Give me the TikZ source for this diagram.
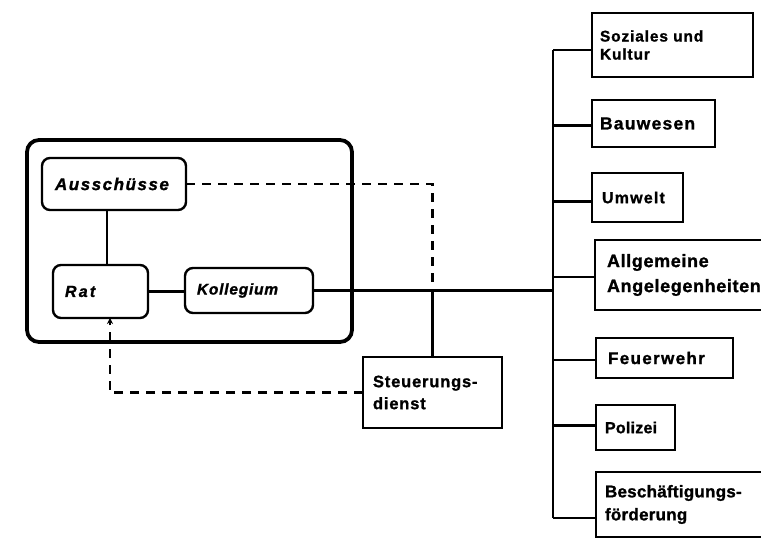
\documentclass[tikz,border=0pt]{standalone}
\usepackage{fontspec}
\setmainfont{Liberation Sans}
\usetikzlibrary{arrows.meta}

% heavy label font: size, baseline skip, letter spacing
\newcommand\lab[3]{\fontsize{#1}{#2}\bfseries\selectfont\addfontfeature{LetterSpace=#3,FakeBold=1.2}}
\newcommand\ilab[3]{\fontsize{#1}{#2}\bfseries\itshape\selectfont\addfontfeature{LetterSpace=#3,FakeBold=1.2}}

\tikzset{
  unit/.style={draw, rectangle, line width=2.4pt, anchor=north west, outer sep=0pt,
               inner ysep=0pt, align=left},
  organ/.style={unit, rounded corners=8pt},
  frame/.style={draw, rectangle, line width=3.8pt, rounded corners=12pt,
                anchor=north west, outer sep=0pt, inner sep=0pt},
  link/.style={line width=2.2pt},
  busline/.style={line width=2.8pt},
  dashlink/.style={line width=2.4pt, dash pattern=on 9pt off 7pt},
}

\begin{document}
\begin{tikzpicture}[x=1pt, y=-1pt]
  \useasboundingbox (0,0) rectangle (761,540);
  \fill[white] (0,0) rectangle (761,540);
  \clip (0,0) rectangle (761,540);

  % council frame with its bodies
  \node[frame, minimum width=325pt, minimum height=202pt] (gremien) at (27,140) {};
  \node[organ, minimum height=52pt, inner xsep=13pt, text width=118pt,
        font=\ilab{17}{20}{9}] (aus) at (42,158) {Ausschüsse};
  \node[organ, minimum height=53pt, inner xsep=12pt, text width=71pt,
        font=\ilab{16}{19}{14}] (rat) at (53,265) {Rat};
  \node[organ, minimum height=45pt, inner xsep=12pt, text width=104pt,
        font=\ilab{15.5}{18}{5}] (kol) at (185,268) {Kollegium};

  % steering unit
  \node[unit, minimum height=71pt, inner xsep=10pt, text width=119pt,
        font=\lab{16.5}{22}{5}] (stg) at (363,357) {Steuerungs-\\dienst};

  % departments
  \node[unit, minimum height=64pt, inner xsep=8pt, text width=145pt,
        font=\lab{15.5}{18}{5.5}] (soz) at (592,13) {Soziales und\\Kultur};
  \node[unit, minimum height=47pt, inner xsep=8pt, text width=107pt,
        font=\lab{17.5}{20}{7}] (bau) at (592,100) {Bauwesen};
  \node[unit, minimum height=49pt, inner xsep=10pt, text width=71pt,
        font=\lab{16}{19}{7.5}] (umw) at (592,173) {Umwelt};
  \node[unit, minimum height=70pt, inner xsep=12pt, text width=176pt,
        font=\lab{18}{25}{3.5}] (allg) at (595,240) {Allgemeine\\Angelegenheiten};
  \node[unit, minimum height=40pt, inner xsep=12pt, text width=113pt,
        font=\lab{17}{20}{8}] (feu) at (596,338) {Feuerwehr};
  \node[unit, minimum height=45pt, inner xsep=9pt, text width=61pt,
        font=\lab{16}{19}{1.5}] (pol) at (596,405) {Polizei};
  \node[unit, minimum height=65pt, inner xsep=9pt, text width=182pt,
        font=\lab{17}{23}{1.5}] (bes) at (596,472) {Beschäftigungs-\\förderung};

  % department bus
  \coordinate (busx) at (553,0);
  \draw[busline] ([yshift=-5pt]soz.west -| busx) -- ([yshift=-13.5pt]bes.west -| busx);
  \draw[link] ([yshift=-5pt]soz.west -| busx) -- ([yshift=-5pt]soz.west);
  \draw[link] ([yshift=-2pt]bau.west -| busx) -- ([yshift=-2pt]bau.west);
  \draw[link] ([yshift=-4pt]umw.west -| busx) -- ([yshift=-4pt]umw.west);
  \draw[link] ([yshift=-2pt]allg.west -| busx) -- ([yshift=-2pt]allg.west);
  \draw[link] ([yshift=-2pt]feu.west -| busx) -- ([yshift=-2pt]feu.west);
  \draw[link] ([yshift=2pt]pol.west -| busx) -- ([yshift=2pt]pol.west);
  \draw[link] ([yshift=-13.5pt]bes.west -| busx) -- ([yshift=-13.5pt]bes.west);

  % links inside the council
  \coordinate (ratup) at ([xshift=65pt]aus.south west);
  \draw[link] (ratup) -- (ratup |- rat.north);
  \draw[link] (rat.east) -- (rat.east -| kol.west);
  \draw[link] (kol.east) -- (kol.east -| busx);

  % steering relations
  \coordinate (ratin) at ([xshift=9.5pt]rat.south);
  \draw[dashlink] (aus.east) -- (aus.east -| stg.north) -- (kol.east -| stg.north);
  \draw[link] (kol.east -| stg.north) -- (stg.north);
  \draw[dashlink, -{Stealth[length=6pt, width=6pt]}]
    (stg.west) -- (stg.west -| ratin) -- (ratin);
\end{tikzpicture}
\end{document}
